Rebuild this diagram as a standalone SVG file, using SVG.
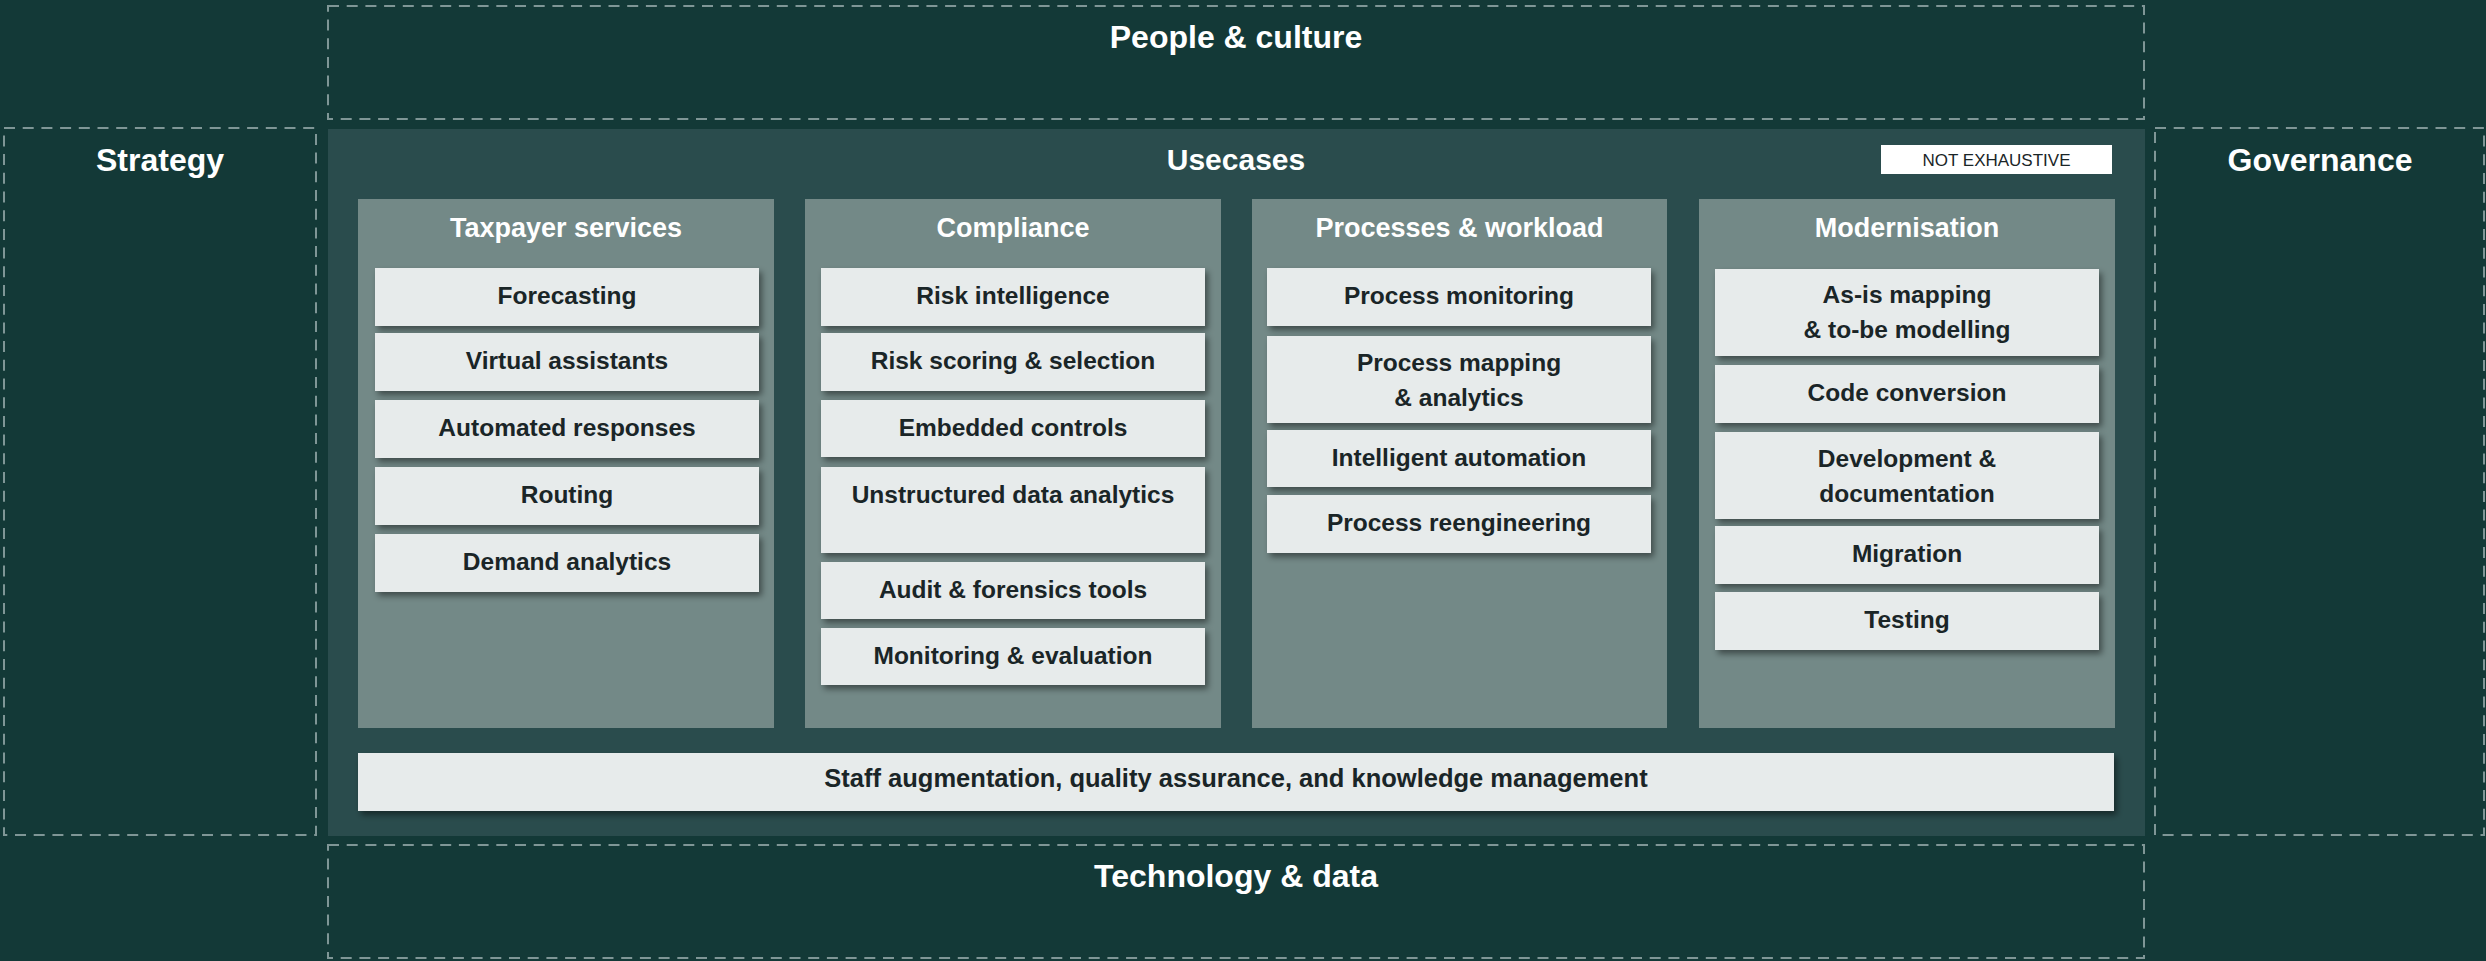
<svg xmlns="http://www.w3.org/2000/svg" width="2486" height="961" viewBox="0 0 2486 961">
<defs>
<filter id="sh" x="-5%" y="-20%" width="115%" height="150%">
<feDropShadow dx="3" dy="4" stdDeviation="3" flood-color="#000" flood-opacity="0.45"/>
</filter>
<style>
.dash{fill:none;stroke:#7F9696;stroke-width:2;stroke-dasharray:11 7.7}
.big{font-family:"Liberation Sans",Arial,sans-serif;font-weight:bold;font-size:32px;fill:#FFFFFF;text-anchor:middle}
.ttl{font-family:"Liberation Sans",Arial,sans-serif;font-weight:bold;font-size:27px;fill:#FFFFFF;text-anchor:middle}
.col{fill:#738987}
.item{fill:#E7EBEB;filter:url(#sh)}
.it{font-family:"Liberation Sans",Arial,sans-serif;font-weight:bold;font-size:24.5px;fill:#1A2527;text-anchor:middle}
.ne{font-family:"Liberation Sans",Arial,sans-serif;font-size:17px;fill:#1A2527;text-anchor:middle}
</style>
</defs>
<rect x="0" y="0" width="2486" height="961" fill="#133937"/>

<g id="people">
<rect class="dash" x="328" y="6" width="1816" height="113"/>
<text class="big" x="1236" y="48">People &amp; culture</text>
</g>
<g id="strategy">
<rect class="dash" x="4" y="128" width="312" height="707"/>
<text class="big" x="160" y="171">Strategy</text>
</g>
<g id="governance">
<rect class="dash" x="2155" y="128" width="329" height="707"/>
<text class="big" x="2320" y="171">Governance</text>
</g>
<g id="technology">
<rect class="dash" x="328" y="845" width="1816" height="113"/>
<text class="big" x="1236" y="887">Technology &amp; data</text>
</g>

<g id="usecases">
<rect x="328" y="129" width="1817" height="707" fill="#2A4C4D"/>
<text class="big" x="1236" y="170" style="font-size:30px">Usecases</text>
</g>
<g id="not-exhaustive">
<rect x="1881" y="145" width="231" height="29" fill="#FFFFFF"/>
<text class="ne" x="1996.5" y="166">NOT EXHAUSTIVE</text>
</g>

<g id="taxpayer-services">
<rect class="col" x="358" y="199" width="416" height="529"/>
<text class="ttl" x="566" y="237">Taxpayer services</text>
<rect class="item" x="375" y="268" width="384" height="58"/>
<text class="it" x="567" y="304">Forecasting</text>
<rect class="item" x="375" y="333" width="384" height="58"/>
<text class="it" x="567" y="369">Virtual assistants</text>
<rect class="item" x="375" y="400" width="384" height="58"/>
<text class="it" x="567" y="436">Automated responses</text>
<rect class="item" x="375" y="467" width="384" height="58"/>
<text class="it" x="567" y="503">Routing</text>
<rect class="item" x="375" y="534" width="384" height="58"/>
<text class="it" x="567" y="570">Demand analytics</text>
</g>

<g id="compliance">
<rect class="col" x="805" y="199" width="416" height="529"/>
<text class="ttl" x="1013" y="237">Compliance</text>
<rect class="item" x="821" y="268" width="384" height="58"/>
<text class="it" x="1013" y="304">Risk intelligence</text>
<rect class="item" x="821" y="333" width="384" height="58"/>
<text class="it" x="1013" y="369">Risk scoring &amp; selection</text>
<rect class="item" x="821" y="400" width="384" height="57"/>
<text class="it" x="1013" y="436">Embedded controls</text>
<rect class="item" x="821" y="467" width="384" height="86"/>
<text class="it" x="1013" y="503">Unstructured data analytics</text>
<rect class="item" x="821" y="562" width="384" height="57"/>
<text class="it" x="1013" y="598">Audit &amp; forensics tools</text>
<rect class="item" x="821" y="628" width="384" height="57"/>
<text class="it" x="1013" y="664">Monitoring &amp; evaluation</text>
</g>

<g id="processes-workload">
<rect class="col" x="1252" y="199" width="415" height="529"/>
<text class="ttl" x="1459.5" y="237">Processes &amp; workload</text>
<rect class="item" x="1267" y="268" width="384" height="58"/>
<text class="it" x="1459" y="304">Process monitoring</text>
<rect class="item" x="1267" y="336" width="384" height="87"/>
<text class="it" x="1459" y="371">Process mapping</text>
<text class="it" x="1459" y="406">&amp; analytics</text>
<rect class="item" x="1267" y="430" width="384" height="57"/>
<text class="it" x="1459" y="466">Intelligent automation</text>
<rect class="item" x="1267" y="495" width="384" height="58"/>
<text class="it" x="1459" y="531">Process reengineering</text>
</g>

<g id="modernisation">
<rect class="col" x="1699" y="199" width="416" height="529"/>
<text class="ttl" x="1907" y="237">Modernisation</text>
<rect class="item" x="1715" y="269" width="384" height="87"/>
<text class="it" x="1907" y="303">As-is mapping</text>
<text class="it" x="1907" y="338">&amp; to-be modelling</text>
<rect class="item" x="1715" y="365" width="384" height="58"/>
<text class="it" x="1907" y="401">Code conversion</text>
<rect class="item" x="1715" y="432" width="384" height="87"/>
<text class="it" x="1907" y="467">Development &amp;</text>
<text class="it" x="1907" y="502">documentation</text>
<rect class="item" x="1715" y="526" width="384" height="58"/>
<text class="it" x="1907" y="562">Migration</text>
<rect class="item" x="1715" y="592" width="384" height="58"/>
<text class="it" x="1907" y="628">Testing</text>
</g>

<g id="staff-bar">
<rect class="item" x="358" y="753" width="1756" height="58"/>
<text class="it" x="1236" y="787" style="font-size:25.5px">Staff augmentation, quality assurance, and knowledge management</text>
</g>

<g id="connectors"></g>
</svg>
